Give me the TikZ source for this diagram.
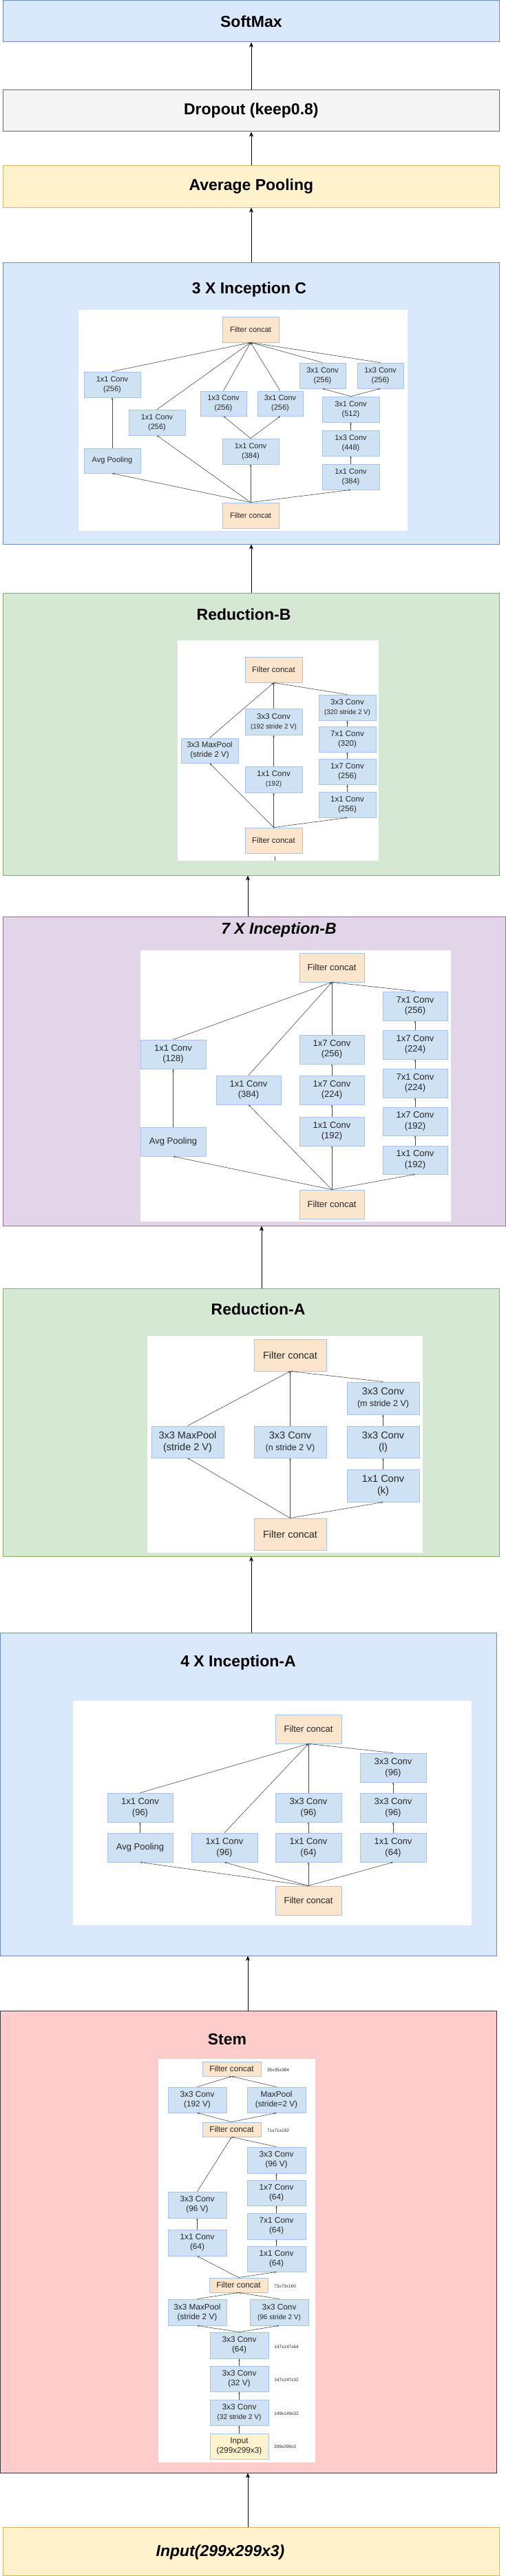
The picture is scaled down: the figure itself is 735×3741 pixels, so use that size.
\documentclass[tikz,border=0pt]{standalone}
\usepackage{fontspec}
\setmainfont{Liberation Sans}
\usetikzlibrary{arrows.meta}
\definecolor{bluF}{HTML}{DAE8FC}\definecolor{bluD}{HTML}{6C8EBF}
\definecolor{grF}{HTML}{F5F5F5}\definecolor{grD}{HTML}{666666}
\definecolor{yeF}{HTML}{FFF2CC}\definecolor{yeD}{HTML}{D6B656}
\definecolor{gnF}{HTML}{D5E8D4}\definecolor{gnD}{HTML}{82B366}
\definecolor{puF}{HTML}{E1D5E7}\definecolor{puD}{HTML}{9673A6}
\definecolor{rdF}{HTML}{FFCCCC}\definecolor{rdD}{HTML}{36393D}
\definecolor{ibf}{HTML}{CFE2F3}\definecolor{ibd}{HTML}{A9C4EB}
\definecolor{iff}{HTML}{FCE5CD}\definecolor{iyf}{HTML}{FFF2CC}
\definecolor{itx}{HTML}{262626}\definecolor{iln}{HTML}{4A4A4A}
\newcommand{\fs}[2]{\fontsize{#1}{#2}\selectfont}
\newcommand{\bx}[7]{\node[#1, minimum width=#4pt-#2pt, minimum height=#5pt-#3pt] (#6) at ({(#2+#4)/2},{(#3+#5)/2}) {#7};}
\tikzset{
  obox/.style={draw, line width=1pt, inner sep=0pt, font=\fs{23}{27}\bfseries},
  ttl/.style={inner sep=0pt, font=\fs{23}{27}\bfseries},
  oarr/.style={-{Stealth[length=7pt,width=6pt,inset=2pt]}, line width=0.9pt, black},
  panel/.style={fill=white, inner sep=0pt},
  ibox/.style={draw=ibd, fill=ibf, line width=0.8pt, inner sep=0pt, align=center, text=itx},
  fbox/.style={ibox, fill=iff},
  ybox/.style={ibox, fill=iyf},
  ie/.style={draw=iln, line width=0.6pt, -{Stealth[length=3.2pt,width=2.6pt]}},
  il/.style={draw=iln, line width=0.6pt},
  dim/.style={inner sep=0pt, text=itx, font=\fs{6.5}{8}},
  fC/.style={font=\fs{11}{14}},
  fRB/.style={font=\fs{11.5}{14}},
  fIB/.style={font=\fs{13}{15.5}},
  fRA/.style={font=\fs{14.5}{17}},
  fIA/.style={font=\fs{13}{16}},
  fS/.style={font=\fs{11.8}{14}},
}
\begin{document}
\begin{tikzpicture}[x=1pt,y=-1pt]
\useasboundingbox[fill=white] (0,0) rectangle (735,3741);
% ---------- top stack ----------
\bx{obox,draw=bluD,fill=bluF}{4.7}{1}{725}{61}{softmax}{SoftMax}
\bx{obox,draw=grD,fill=grF}{4.7}{131}{725}{191}{dropout}{Dropout (keep0.8)}
\bx{obox,draw=yeD,fill=yeF}{4.7}{241}{725}{301}{avgpool}{Average Pooling}
% ---------- Inception C ----------
\bx{obox,draw=bluD,fill=bluF}{4.7}{381}{725}{790}{incC}{}
\node[ttl] (tincC) at (362,421) {3 X Inception C};
\bx{panel}{114}{450}{592}{771}{pC}{}
\bx{fbox,fC}{323}{460}{405}{497}{cFT}{Filter concat}
\bx{ibox,fC}{122}{540}{204}{577}{c1}{1x1 Conv\\(256)}
\bx{ibox,fC}{122}{651}{204}{687}{cAP}{Avg Pooling}
\bx{ibox,fC}{187}{595}{269}{632}{c2}{1x1 Conv\\(256)}
\bx{ibox,fC}{291}{568}{358}{604}{c3}{1x3 Conv\\(256)}
\bx{ibox,fC}{374}{568}{440}{604}{c4}{3x1 Conv\\(256)}
\bx{ibox,fC}{323}{637}{405}{674}{c5}{1x1 Conv\\(384)}
\bx{ibox,fC}{435}{527}{502}{564}{c6}{3x1 Conv\\(256)}
\bx{ibox,fC}{519}{527}{586}{564}{c7}{1x3 Conv\\(256)}
\bx{ibox,fC}{468}{576}{551}{613}{c8}{3x1 Conv\\(512)}
\bx{ibox,fC}{468}{625}{551}{662}{c9}{1x3 Conv\\(448)}
\bx{ibox,fC}{468}{674}{551}{711}{c10}{1x1 Conv\\(384)}
\bx{fbox,fC}{323}{730}{405}{767}{cFB}{Filter concat}
\foreach \t in {cAP,c2,c5,c10} \draw[ie] (cFB.north) -- (\t.south);
\draw[ie] (cAP.north) -- (c1.south);
\draw[ie] (c5.north) -- (c3.south);
\draw[ie] (c5.north) -- (c4.south);
\draw[ie] (c10.north) -- (c9.south);
\draw[ie] (c9.north) -- (c8.south);
\draw[ie] (c8.north) -- (c6.south);
\draw[ie] (c8.north) -- (c7.south);
\foreach \s in {c1,c2,c3,c4,c6,c7} \draw[ie] (\s.north) -- (cFT.south);
% ---------- Reduction B ----------
\bx{obox,draw=gnD,fill=gnF}{4.7}{861}{725}{1271}{redB}{}
\node[ttl] (tredB) at (354,892) {Reduction-B};
\bx{panel}{258}{930}{550}{1250}{pRB}{}
\bx{fbox,fRB}{356}{954}{439}{991}{bFT}{Filter concat}
\bx{ibox,fRB}{463}{1009}{546}{1046}{b1}{3x3 Conv\\{\fs{9.8}{12}(320 stride 2 V)}}
\bx{ibox,fRB}{356}{1029}{439}{1067}{b2}{3x3 Conv\\{\fs{9.8}{12}(192 stride 2 V)}}
\bx{ibox,fRB}{263}{1072}{346}{1108}{bMP}{3x3 MaxPool\\(stride 2 V)}
\bx{ibox,fRB}{463}{1055}{546}{1092}{b3}{7x1 Conv\\(320)}
\bx{ibox,fRB}{463}{1102}{546}{1139}{b4}{1x7 Conv\\(256)}
\bx{ibox,fRB}{356}{1113}{439}{1151}{b5}{1x1 Conv\\{\fs{10}{12}(192)}}
\bx{ibox,fRB}{463}{1150}{546}{1187}{b6}{1x1 Conv\\(256)}
\bx{fbox,fRB}{356}{1202}{439}{1239}{bFB}{Filter concat}
\foreach \t in {bMP,b5,b6} \draw[ie] (bFB.north) -- (\t.south);
\draw[ie] (b5.north) -- (b2.south);
\draw[ie] (b6.north) -- (b4.south);
\draw[ie] (b4.north) -- (b3.south);
\draw[ie] (b3.north) -- (b1.south);
\foreach \s in {bMP,b2,b1} \draw[ie] (\s.north) -- (bFT.south);
\coordinate (stubA) at (399,1244);
\coordinate (stubB) at (399,1250);
\draw[il] (stubA) -- (stubB);
% ---------- Inception B ----------
\bx{obox,draw=puD,fill=puF}{4.7}{1331}{734}{1780}{incB}{}
\node[ttl,font=\fs{23}{27}\bfseries\itshape] (tincB) at (405,1351) {7 X Inception-B};
\bx{panel}{204}{1380}{655}{1774}{pIB}{}
\bx{fbox,fIB}{435}{1384}{529}{1426}{eFT}{Filter concat}
\bx{ibox,fIB}{556}{1440}{650}{1482}{e1}{7x1 Conv\\(256)}
\bx{ibox,fIB}{556}{1496}{650}{1538}{e2}{1x7 Conv\\(224)}
\bx{ibox,fIB}{556}{1552}{650}{1594}{e3}{7x1 Conv\\(224)}
\bx{ibox,fIB}{556}{1608}{650}{1649}{e4}{1x7 Conv\\(192)}
\bx{ibox,fIB}{556}{1664}{650}{1705}{e5}{1x1 Conv\\(192)}
\bx{ibox,fIB}{204}{1510}{299}{1552}{eA}{1x1 Conv\\(128)}
\bx{ibox,fIB}{204}{1637}{299}{1679}{eAP}{Avg Pooling}
\bx{ibox,fIB}{314}{1562}{408}{1604}{eB}{1x1 Conv\\(384)}
\bx{ibox,fIB}{435}{1503}{529}{1545}{m1}{1x7 Conv\\(256)}
\bx{ibox,fIB}{435}{1562}{529}{1604}{m2}{1x7 Conv\\(224)}
\bx{ibox,fIB}{435}{1622}{529}{1664}{m3}{1x1 Conv\\(192)}
\bx{fbox,fIB}{435}{1728}{529}{1770}{eFB}{Filter concat}
\foreach \t in {eAP,eB,m3,e5} \draw[ie] (eFB.north) -- (\t.south);
\draw[ie] (eAP.north) -- (eA.south);
\draw[ie] (m3.north) -- (m2.south);
\draw[ie] (m2.north) -- (m1.south);
\draw[ie] (e5.north) -- (e4.south);
\draw[ie] (e4.north) -- (e3.south);
\draw[ie] (e3.north) -- (e2.south);
\draw[ie] (e2.north) -- (e1.south);
\foreach \s in {eA,eB,m1,e1} \draw[ie] (\s.north) -- (eFT.south);
% ---------- Reduction A ----------
\bx{obox,draw=gnD,fill=gnF}{4.7}{1871}{725}{2260}{redA}{}
\node[ttl] (tredA) at (375,1901) {Reduction-A};
\bx{panel}{214}{1940}{614}{2255}{pRA}{}
\bx{fbox,fRA}{369}{1945}{474}{1991}{aFT}{Filter concat}
\bx{ibox,fRA}{504}{2007}{609}{2054}{a1}{3x3 Conv\\{\fs{12.5}{15}(m stride 2 V)}}
\bx{ibox,fRA}{220}{2071}{325}{2117}{aMP}{3x3 MaxPool\\(stride 2 V)}
\bx{ibox,fRA}{369}{2071}{474}{2117}{a2}{3x3 Conv\\{\fs{12.5}{15}(n stride 2 V)}}
\bx{ibox,fRA}{504}{2071}{609}{2117}{a3}{3x3 Conv\\(l)}
\bx{ibox,fRA}{504}{2134}{609}{2181}{a4}{1x1 Conv\\(k)}
\bx{fbox,fRA}{369}{2205}{474}{2251}{aFB}{Filter concat}
\foreach \t in {aMP,a2,a4} \draw[ie] (aFB.north) -- (\t.south);
\draw[ie] (a4.north) -- (a3.south);
\draw[ie] (a3.north) -- (a1.south);
\foreach \s in {aMP,a2,a1} \draw[ie] (\s.north) -- (aFT.south);
% ---------- Inception A ----------
\bx{obox,draw=bluD,fill=bluF}{0.5}{2371}{721}{2840}{incA}{}
\node[ttl] (tincA) at (346,2415) {4 X Inception-A};
\bx{panel}{106}{2470}{685}{2796}{pIA}{}
\bx{fbox,fIA}{400}{2490}{496}{2532}{gFT}{Filter concat}
\bx{ibox,fIA}{523}{2546}{619}{2588}{g1}{3x3 Conv\\(96)}
\bx{ibox,fIA}{156}{2604}{251}{2646}{gA}{1x1 Conv\\(96)}
\bx{ibox,fIA}{400}{2604}{496}{2646}{gB}{3x3 Conv\\(96)}
\bx{ibox,fIA}{523}{2604}{619}{2646}{gC}{3x3 Conv\\(96)}
\bx{ibox,fIA}{156}{2662}{251}{2704}{gAP}{Avg Pooling}
\bx{ibox,fIA}{278}{2662}{374}{2704}{gD}{1x1 Conv\\(96)}
\bx{ibox,fIA}{400}{2662}{496}{2704}{gE}{1x1 Conv\\(64)}
\bx{ibox,fIA}{523}{2662}{619}{2704}{gF}{1x1 Conv\\(64)}
\bx{fbox,fIA}{400}{2739}{496}{2781}{gFB}{Filter concat}
\foreach \t in {gAP,gD,gE,gF} \draw[ie] (gFB.north) -- (\t.south);
\draw[ie] (gAP.north) -- (gA.south);
\draw[ie] (gE.north) -- (gB.south);
\draw[ie] (gF.north) -- (gC.south);
\draw[ie] (gC.north) -- (g1.south);
\foreach \s in {gA,gD,gB,g1} \draw[ie] (\s.north) -- (gFT.south);
% ---------- Stem ----------
\bx{obox,draw=rdD,fill=rdF}{0.5}{2920}{721}{3591}{stem}{}
\node[ttl] (tstem) at (330,2962) {Stem};
\bx{panel}{230}{2990}{458}{3576}{pS}{}
\bx{fbox,fS}{294}{2994}{379}{3015}{sF1}{Filter concat}
\node[dim] (dF1) at (404,3006) {35x35x384};
\bx{ibox,fS}{244}{3031}{329}{3068}{s192}{3x3 Conv\\(192 V)}
\bx{ibox,fS}{359}{3031}{444}{3068}{sMP}{MaxPool\\(stride=2 V)}
\bx{fbox,fS}{294}{3082}{379}{3103}{sF2}{Filter concat}
\node[dim] (dF2) at (404,3094) {71x71x192};
\bx{ibox,fS}{359}{3118}{444}{3156}{s96r}{3x3 Conv\\(96 V)}
\bx{ibox,fS}{359}{3166}{444}{3203}{s17}{1x7 Conv\\(64)}
\bx{ibox,fS}{244}{3183}{329}{3221}{s96l}{3x3 Conv\\(96 V)}
\bx{ibox,fS}{359}{3214}{444}{3252}{s71}{7x1 Conv\\(64)}
\bx{ibox,fS}{244}{3238}{329}{3276}{s11l}{1x1 Conv\\(64)}
\bx{ibox,fS}{359}{3262}{444}{3299}{s11r}{1x1 Conv\\(64)}
\bx{fbox,fS}{304}{3308}{389}{3329}{sF3}{Filter concat}
\node[dim] (dF3) at (414,3320) {73x73x160};
\bx{ibox,fS}{244}{3339}{329}{3377}{sMP2}{3x3 MaxPool\\(stride 2 V)}
\bx{ibox,fS}{363}{3339}{448}{3377}{s96s}{3x3 Conv\\{\fs{10}{12}(96 stride 2 V)}}
\bx{ibox,fS}{305}{3387}{390}{3425}{s64}{3x3 Conv\\(64)}
\node[dim] (d64) at (416,3408) {147x147x64};
\bx{ibox,fS}{305}{3436}{390}{3473}{s32}{3x3 Conv\\(32 V)}
\node[dim] (d32) at (416,3456) {147x147x32};
\bx{ibox,fS}{305}{3485}{390}{3522}{s32s}{3x3 Conv\\{\fs{10.2}{12}(32 stride 2 V)}}
\node[dim] (d32s) at (416,3505) {149x149x32};
\bx{ybox,fS}{305}{3534}{390}{3571}{sIn}{Input\\(299x299x3)}
\node[dim] (dIn) at (414,3553) {299x299x3};
\draw[ie] (sIn.north) -- (s32s.south);
\draw[ie] (s32s.north) -- (s32.south);
\draw[ie] (s32.north) -- (s64.south);
\draw[ie] (s64.north) -- (sMP2.south);
\draw[ie] (s64.north) -- (s96s.south);
\draw[ie] (sMP2.north) -- (sF3.south);
\draw[ie] (s96s.north) -- (sF3.south);
\draw[ie] (sF3.north) -- (s11l.south);
\draw[ie] (sF3.north) -- (s11r.south);
\draw[ie] (s11l.north) -- (s96l.south);
\draw[ie] (s11r.north) -- (s71.south);
\draw[ie] (s71.north) -- (s17.south);
\draw[ie] (s17.north) -- (s96r.south);
\draw[ie] (s96l.north) -- (sF2.south);
\draw[ie] (s96r.north) -- (sF2.south);
\draw[ie] (sF2.north) -- (s192.south);
\draw[ie] (sF2.north) -- (sMP.south);
\draw[ie] (s192.north) -- (sF1.south);
\draw[ie] (sMP.north) -- (sF1.south);
% ---------- Input ----------
\bx{obox,draw=yeD,fill=yeF}{4.7}{3670}{725}{3740}{input}{}
\node[ttl,font=\fs{23}{27}\bfseries\itshape] (tinput) at (320,3707) {Input(299x299x3)};
% ---------- outer arrows ----------
\coordinate (xa) at (365,0);
\coordinate (xb) at (360,0);
\coordinate (xc) at (380,0);
\draw[oarr] (xa |- dropout.north) -- (xa |- softmax.south);
\draw[oarr] (xa |- avgpool.north) -- (xa |- dropout.south);
\draw[oarr] (xa |- incC.north) -- (xa |- avgpool.south);
\draw[oarr] (xa |- redB.north) -- (xa |- incC.south);
\draw[oarr] (xb |- incB.north) -- (xb |- redB.south);
\draw[oarr] (xc |- redA.north) -- (xc |- incB.south);
\draw[oarr] (xa |- incA.north) -- (xa |- redA.south);
\draw[oarr] (xb |- stem.north) -- (xb |- incA.south);
\draw[oarr] (xb |- input.north) -- (xb |- stem.south);
\end{tikzpicture}
\end{document}
